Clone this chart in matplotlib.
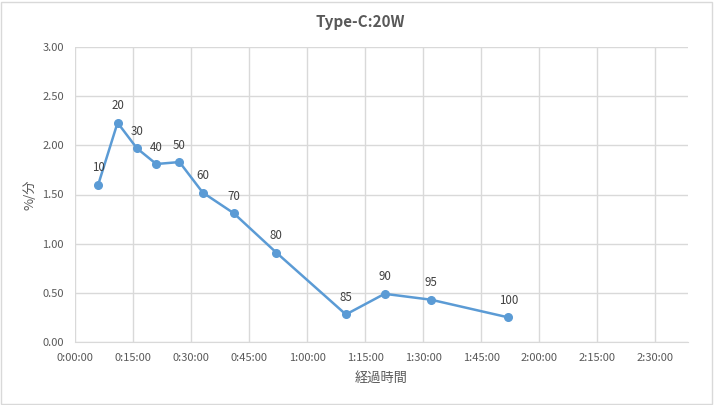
import matplotlib
matplotlib.use("Agg")
import matplotlib.pyplot as plt
from matplotlib.patches import Rectangle
from matplotlib.ticker import FuncFormatter, MultipleLocator

plt.rcParams['font.family'] = ['Noto Sans CJK JP', 'DejaVu Sans']

# elapsed time (minutes) and charge speed (%/min), labelled with battery %
minutes = [6, 11, 16, 21, 27, 33, 41, 52, 70, 80, 92, 112]
rate = [1.60, 2.23, 1.97, 1.81, 1.83, 1.52, 1.31, 0.91, 0.28, 0.49, 0.43, 0.25]
labels = ["10", "20", "30", "40", "50", "60", "70", "80", "85", "90", "95", "100"]

title = "Type-C:20W"
xlabel = "経過時間"
ylabel = "%/分"

txt = "#595959"
grid = "#d9d9d9"
blue = "#5b9bd5"

fig = plt.figure(figsize=(7.2, 4.05), dpi=100)
W, H = 720, 405
ax = fig.add_axes([75 / W, 1 - 342 / H, (688 - 75) / W, (342 - 47) / H])

ax.plot(minutes, rate, color=blue, lw=1.8, marker="o", ms=5.5, zorder=3)
for x, y, s in zip(minutes, rate, labels):
    ax.annotate(s, (x, y), xytext=(0, 7.5), textcoords="offset points",
                ha="center", va="bottom", fontsize=8.3, color="#404040")

ax.set_xlim(0, 158.4)
ax.set_ylim(0, 3.0)
ax.xaxis.set_major_locator(MultipleLocator(15))
ax.yaxis.set_major_locator(MultipleLocator(0.5))
ax.xaxis.set_major_formatter(FuncFormatter(lambda v, p: "%d:%02d:00" % (int(v) // 60, int(v) % 60)))
ax.yaxis.set_major_formatter(FuncFormatter(lambda v, p: "%.2f" % v))
ax.grid(True, color=grid, lw=1)
ax.set_axisbelow(True)
for k in ["top", "right", "left"]:
    ax.spines[k].set_visible(False)
ax.spines["bottom"].set_color(grid)
ax.tick_params(length=0, colors=txt, labelsize=8, pad=8)

ax.set_xlabel(xlabel, color=txt, fontsize=9.5, labelpad=6)
ax.set_ylabel(ylabel, color=txt, fontsize=9.5, labelpad=4)
fig.text(0.5, 1 - 22 / H, title, ha="center", va="center", fontsize=11,
         fontweight="bold", color=txt)

fig.patches.append(Rectangle((1 / W, 1 / H), 711 / W, 402 / H, transform=fig.transFigure,
                             fill=False, edgecolor=grid, lw=1))

fig.savefig("out.png", dpi=100, facecolor="white")
